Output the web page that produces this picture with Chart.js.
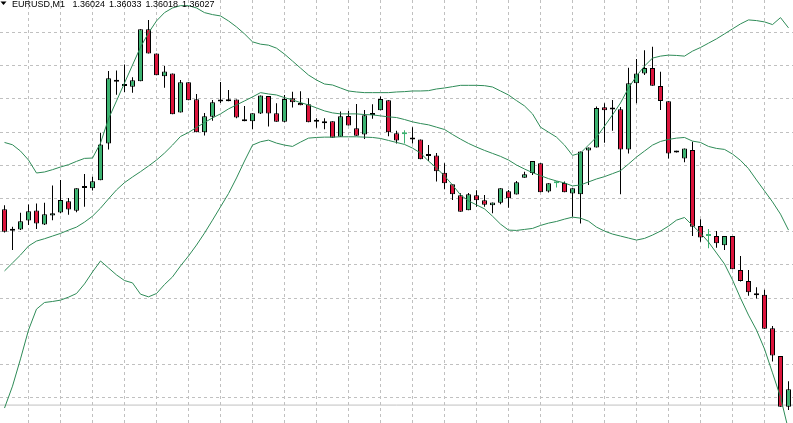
<!DOCTYPE html>
<html>
<head>
<meta charset="utf-8">
<title>EURUSD,M1</title>
<script src="https://cdn.jsdelivr.net/npm/chart.js@4/dist/chart.umd.min.js"></script>
<style>
  html, body { margin: 0; padding: 0; background: #fff; }
  #wrap { width: 793px; height: 423px; }
</style>
</head>
<body>
<div id="wrap"><canvas id="myChart" width="793" height="423"></canvas></div>
<script>
const bullColor = '#3cb371'
const bearColor = '#dc143c'
const bandColor = '#2e8b57'
const gridColor = '#c0c0c0'

const symbolLabel = 'EURUSD,M1'
const titleValues = ['1.36024', '1.36033', '1.36018', '1.36027']

// one-minute bars, left to right
const opens = [1.360868, 1.360803, 1.360807, 1.360834, 1.360864, 1.360822, 1.360849, 1.360858, 1.360892, 1.360863,
  1.360932, 1.360931, 1.360955, 1.361066, 1.361252, 1.361239, 1.361237, 1.361253, 1.361410, 1.361337,
  1.361268, 1.361277, 1.361159, 1.361250, 1.361199, 1.361100, 1.361146, 1.361192, 1.361193, 1.361198,
  1.361139, 1.361133, 1.361156, 1.361209, 1.361157, 1.361131, 1.361202, 1.361188, 1.361184, 1.361131,
  1.361127, 1.361133, 1.361086, 1.361149, 1.361112, 1.361093, 1.361152, 1.361166, 1.361196, 1.361097,
  1.361094, 1.361078, 1.361078, 1.361028, 1.361030, 1.360978, 1.360943, 1.360910, 1.360865, 1.360910,
  1.360895, 1.360880, 1.360887, 1.360922, 1.360912, 1.360963, 1.360977, 1.361006, 1.360921, 1.360946,
  1.360947, 1.360915, 1.360913, 1.361045, 1.361054, 1.361175, 1.361168, 1.361169, 1.361048, 1.361247,
  1.361277, 1.361293, 1.361239, 1.361193, 1.361039, 1.361021, 1.361046, 1.360817, 1.360787, 1.360787,
  1.360759, 1.360787, 1.360685, 1.360652, 1.360615, 1.360610, 1.360509, 1.360426, 1.360273]
const highs = [1.360880, 1.360815, 1.360857, 1.360882, 1.360885, 1.360887, 1.360939, 1.360956, 1.360902, 1.360931,
  1.360974, 1.360966, 1.361098, 1.361284, 1.361286, 1.361304, 1.361265, 1.361410, 1.361438, 1.361337,
  1.361299, 1.361277, 1.361257, 1.361250, 1.361215, 1.361158, 1.361197, 1.361251, 1.361227, 1.361198,
  1.361179, 1.361157, 1.361210, 1.361209, 1.361187, 1.361212, 1.361222, 1.361223, 1.361202, 1.361142,
  1.361142, 1.361133, 1.361162, 1.361164, 1.361185, 1.361167, 1.361184, 1.361207, 1.361196, 1.361104,
  1.361106, 1.361115, 1.361078, 1.361061, 1.361037, 1.361006, 1.360943, 1.360916, 1.360917, 1.360925,
  1.360911, 1.360888, 1.360931, 1.360926, 1.360953, 1.360981, 1.361013, 1.361006, 1.360946, 1.360953,
  1.360951, 1.360931, 1.361042, 1.361054, 1.361177, 1.361187, 1.361197, 1.361176, 1.361294, 1.361320,
  1.361347, 1.361357, 1.361282, 1.361193, 1.361044, 1.361051, 1.361071, 1.360838, 1.360808, 1.360802,
  1.360787, 1.360787, 1.360727, 1.360685, 1.360633, 1.360625, 1.360516, 1.360426, 1.360350]
const lows = [1.360798, 1.360745, 1.360805, 1.360820, 1.360808, 1.360820, 1.360835, 1.360856, 1.360851, 1.360859,
  1.360875, 1.360924, 1.360955, 1.361048, 1.361213, 1.361221, 1.361219, 1.361253, 1.361337, 1.361271,
  1.361234, 1.361154, 1.361159, 1.361196, 1.361100, 1.361090, 1.361134, 1.361188, 1.361193, 1.361142,
  1.361133, 1.361109, 1.361155, 1.361117, 1.361131, 1.361130, 1.361174, 1.361181, 1.361130, 1.361113,
  1.361109, 1.361083, 1.361086, 1.361120, 1.361089, 1.361079, 1.361140, 1.361166, 1.361088, 1.361066,
  1.361066, 1.361066, 1.361018, 1.361013, 1.360951, 1.360928, 1.360896, 1.360860, 1.360865, 1.360875,
  1.360875, 1.360856, 1.360883, 1.360872, 1.360912, 1.360963, 1.360971, 1.360919, 1.360918, 1.360933,
  1.360919, 1.360845, 1.360825, 1.360941, 1.361054, 1.361068, 1.361104, 1.360913, 1.361036, 1.361187,
  1.361272, 1.361240, 1.361167, 1.361021, 1.361039, 1.361009, 1.360787, 1.360770, 1.360750, 1.360752,
  1.360745, 1.360687, 1.360650, 1.360607, 1.360599, 1.360508, 1.360409, 1.360273, 1.360263]
const closes = [1.360800, 1.360803, 1.360832, 1.360862, 1.360825, 1.360853, 1.360856, 1.360896, 1.360867, 1.360931,
  1.360932, 1.360952, 1.361063, 1.361262, 1.361252, 1.361239, 1.361256, 1.361410, 1.361337, 1.361271,
  1.361283, 1.361154, 1.361250, 1.361196, 1.361100, 1.361148, 1.361190, 1.361192, 1.361199, 1.361144,
  1.361133, 1.361157, 1.361210, 1.361156, 1.361131, 1.361200, 1.361190, 1.361181, 1.361130, 1.361131,
  1.361133, 1.361083, 1.361148, 1.361120, 1.361089, 1.361151, 1.361152, 1.361200, 1.361100, 1.361075,
  1.361094, 1.361078, 1.361018, 1.361028, 1.360982, 1.360946, 1.360913, 1.360860, 1.360913, 1.360895,
  1.360881, 1.360888, 1.360931, 1.360901, 1.360949, 1.360973, 1.361013, 1.360919, 1.360946, 1.360946,
  1.360919, 1.360931, 1.361042, 1.361054, 1.361173, 1.361166, 1.361168, 1.361048, 1.361247, 1.361277,
  1.361293, 1.361240, 1.361194, 1.361036, 1.361044, 1.361051, 1.360815, 1.360783, 1.360787, 1.360765,
  1.360787, 1.360687, 1.360652, 1.360618, 1.360609, 1.360508, 1.360427, 1.360273, 1.360326]
// dojis that the terminal painted green instead of black
const greenDojis = [50, 69, 88]

// Bollinger bands as they appear on the chart
const upperBand = [1.361069, 1.361062, 1.361043, 1.361016, 1.360977, 1.360980, 1.360987, 1.360995, 1.361002, 1.361012,
  1.361021, 1.361022, 1.361067, 1.361140, 1.361194, 1.361248, 1.361302, 1.361356, 1.361399, 1.361435,
  1.361460, 1.361474, 1.361481, 1.361481, 1.361474, 1.361460, 1.361454, 1.361450, 1.361435, 1.361417,
  1.361396, 1.361372, 1.361365, 1.361362, 1.361353, 1.361335, 1.361314, 1.361293, 1.361272, 1.361257,
  1.361245, 1.361242, 1.361233, 1.361224, 1.361221, 1.361219, 1.361219, 1.361219, 1.361219, 1.361221,
  1.361222, 1.361224, 1.361224, 1.361225, 1.361230, 1.361233, 1.361237, 1.361241, 1.361241, 1.361241,
  1.361240, 1.361236, 1.361224, 1.361212, 1.361195, 1.361179, 1.361155, 1.361115, 1.361100, 1.361085,
  1.361061, 1.361030, 1.361037, 1.361061, 1.361085, 1.361118, 1.361152, 1.361188, 1.361233, 1.361269,
  1.361299, 1.361323, 1.361329, 1.361332, 1.361331, 1.361329, 1.361344, 1.361355, 1.361368, 1.361381,
  1.361396, 1.361411, 1.361426, 1.361438, 1.361436, 1.361432, 1.361424, 1.361445, 1.361414]
const middleBand = [1.360682, 1.360706, 1.360730, 1.360757, 1.360772, 1.360779, 1.360787, 1.360795, 1.360805, 1.360814,
  1.360829, 1.360847, 1.360871, 1.360899, 1.360926, 1.360948, 1.360965, 1.360981, 1.360998, 1.361016,
  1.361037, 1.361061, 1.361087, 1.361099, 1.361114, 1.361129, 1.361143, 1.361155, 1.361170, 1.361182,
  1.361194, 1.361206, 1.361219, 1.361215, 1.361212, 1.361204, 1.361197, 1.361189, 1.361182, 1.361173,
  1.361164, 1.361158, 1.361155, 1.361155, 1.361155, 1.361153, 1.361152, 1.361149, 1.361146, 1.361144,
  1.361138, 1.361131, 1.361126, 1.361122, 1.361115, 1.361108, 1.361093, 1.361079, 1.361066, 1.361055,
  1.361045, 1.361036, 1.361027, 1.361016, 1.361001, 1.360989, 1.360978, 1.360969, 1.360960, 1.360953,
  1.360947, 1.360938, 1.360941, 1.360950, 1.360959, 1.360966, 1.360975, 1.360984, 1.361004, 1.361025,
  1.361043, 1.361061, 1.361072, 1.361078, 1.361082, 1.361084, 1.361073, 1.361069, 1.361057, 1.361051,
  1.361048, 1.361034, 1.361015, 1.360990, 1.360956, 1.360923, 1.360890, 1.360853, 1.360805]
const lowerBand = [1.360269, 1.360335, 1.360417, 1.360504, 1.360567, 1.360587, 1.360590, 1.360594, 1.360603, 1.360614,
  1.360643, 1.360679, 1.360712, 1.360691, 1.360670, 1.360653, 1.360646, 1.360612, 1.360604, 1.360614,
  1.360641, 1.360664, 1.360697, 1.360727, 1.360760, 1.360796, 1.360835, 1.360875, 1.360915, 1.360962,
  1.361013, 1.361061, 1.361071, 1.361076, 1.361067, 1.361061, 1.361057, 1.361070, 1.361082, 1.361084,
  1.361085, 1.361085, 1.361086, 1.361086, 1.361086, 1.361085, 1.361084, 1.361081, 1.361075, 1.361069,
  1.361063, 1.361052, 1.361037, 1.361013, 1.360992, 1.360968, 1.360941, 1.360911, 1.360893, 1.360881,
  1.360869, 1.360847, 1.360823, 1.360805, 1.360804, 1.360807, 1.360810, 1.360819, 1.360826, 1.360831,
  1.360838, 1.360844, 1.360841, 1.360832, 1.360814, 1.360802, 1.360793, 1.360787, 1.360781, 1.360775,
  1.360780, 1.360790, 1.360802, 1.360817, 1.360835, 1.360843, 1.360819, 1.360796, 1.360769, 1.360736,
  1.360703, 1.360655, 1.360600, 1.360549, 1.360504, 1.360447, 1.360375, 1.360302, 1.360203]

const bidPrice = 1.360278

// grid rows (price) and grid columns (bar index)
const gridRows = [1.3603, 1.3604, 1.3605, 1.3606, 1.3607, 1.3608, 1.3609, 1.3610, 1.3611, 1.3612, 1.3613, 1.3614]
const gridCols = [3, 7, 11, 15, 19, 23, 27, 31, 35, 39, 43, 47, 51, 55, 59, 63, 67, 71, 75, 79, 83, 87, 91, 95]

const priceMin = 1.360224
const priceMax = 1.361498
const barMin = -0.5625
const barMax = 98.5625

function bodyColor(i) {
	if (closes[i] > opens[i]) return bullColor
	if (closes[i] < opens[i]) return bearColor
	return greenDojis.includes(i) ? bullColor : '#000'
}
function edgeColor(i) {
	if (closes[i] === opens[i] && greenDojis.includes(i)) return bullColor
	return '#000'
}

const bodies = opens.map((o, i) => ({x: i, y: [o, closes[i]]}))
const wicks = lows.map((l, i) => ({x: i, y: [l, highs[i]]}))
const band = arr => arr.map((v, i) => ({x: i, y: v}))

const titlePlugin = {
	id: 'terminalTitle',
	afterDraw(chart) {
		const ctx = chart.ctx
		ctx.save()
		ctx.fillStyle = '#000'
		ctx.beginPath()
		ctx.moveTo(0.5, 1.5)
		ctx.lineTo(6.5, 1.5)
		ctx.lineTo(3.5, 5)
		ctx.closePath()
		ctx.fill()
		ctx.font = '9px "Liberation Sans", Arial, sans-serif'
		ctx.textBaseline = 'alphabetic'
		ctx.fillText(symbolLabel, 12, 7)
		const xs = [72.5, 109, 145.5, 182]
		titleValues.forEach((t, i) => ctx.fillText(t, xs[i], 7))
		ctx.restore()
	}
}

const gridScale = {
	grid: {color: gridColor, lineWidth: 1, drawTicks: false, offset: false},
	border: {display: false, dash: [3, 3]},
	ticks: {display: false}
}

var ctx = document.getElementById('myChart')
var chart = new Chart(ctx, {
	type: 'bar',
	data: {
		datasets: [{
			type: 'line',
			label: 'Upper',
			data: band(upperBand),
			borderColor: bandColor,
			borderWidth: 1,
			pointRadius: 0,
			tension: 0,
			order: 0
		}, {
			type: 'line',
			label: 'Middle',
			data: band(middleBand),
			borderColor: bandColor,
			borderWidth: 1,
			pointRadius: 0,
			tension: 0,
			order: 0
		}, {
			type: 'line',
			label: 'Lower',
			data: band(lowerBand),
			borderColor: bandColor,
			borderWidth: 1,
			pointRadius: 0,
			tension: 0,
			order: 0
		}, {
			label: 'Body',
			data: bodies,
			backgroundColor: opens.map((o, i) => bodyColor(i)),
			borderColor: opens.map((o, i) => edgeColor(i)),
			borderWidth: 1,
			borderSkipped: false,
			barThickness: 5,
			minBarLength: 2,
			inflateAmount: 0,
			grouped: false,
			order: 1
		}, {
			label: 'Wick',
			data: wicks,
			backgroundColor: opens.map((o, i) => edgeColor(i)),
			borderWidth: 0,
			barThickness: 1,
			inflateAmount: 0,
			grouped: false,
			order: 2
		}, {
			type: 'line',
			label: 'Bid',
			data: [{x: barMin, y: bidPrice}, {x: barMax, y: bidPrice}],
			borderColor: gridColor,
			borderWidth: 1,
			pointRadius: 0,
			order: 3
		}]
	},
	options: {
		responsive: false,
		animation: false,
		layout: {padding: 0},
		plugins: {
			legend: {display: false},
			tooltip: {enabled: false},
			title: {display: false}
		},
		scales: {
			x: Object.assign({}, gridScale, {
				type: 'linear',
				min: barMin,
				max: barMax,
				offset: false,
				afterBuildTicks: s => { s.ticks = gridCols.map(v => ({value: v})) },
				afterFit: s => { s.height = 0 }
			}),
			y: Object.assign({}, gridScale, {
				type: 'linear',
				min: priceMin,
				max: priceMax,
				afterBuildTicks: s => { s.ticks = gridRows.map(v => ({value: v})) },
				afterFit: s => { s.width = 0 }
			})
		}
	},
	plugins: [titlePlugin]
})
</script>
</body>
</html>
